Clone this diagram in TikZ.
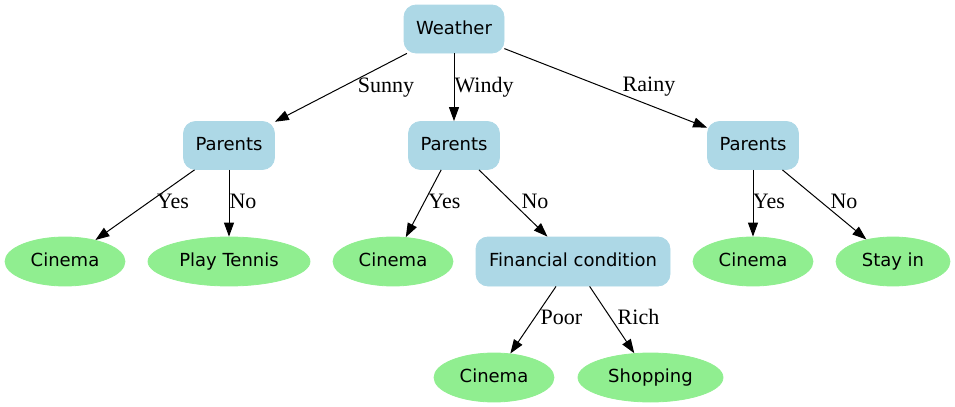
\documentclass[tikz,border=0pt]{standalone}
\usepackage{fontspec}
\setmainfont{Liberation Serif}
\setsansfont{DejaVu Sans}
\usetikzlibrary{shapes.geometric,arrows.meta}

\definecolor{boxblue}{HTML}{ADD8E6}
\definecolor{leafgreen}{HTML}{90EE90}

\tikzset{
  nodefont/.style={font=\sffamily\fontsize{9}{10}\selectfont, text height=0.75em, text depth=0.25em},
  question/.style={nodefont, rectangle, rounded corners=6pt, fill=boxblue, draw=boxblue,
    minimum height=24pt, inner xsep=0pt},
  answer/.style={nodefont, ellipse, fill=leafgreen, draw=leafgreen,
    minimum height=24.5pt, minimum width=60pt, inner sep=0pt},
  choice/.style={font=\fontsize{11}{12}\selectfont, inner sep=0pt, anchor=base},
  branch/.style={draw, line width=0.5pt, -{Triangle[length=7pt,width=5pt]}}
}

\begin{document}
\begin{tikzpicture}[x=0.5pt,y=-0.5pt]
\useasboundingbox (0,0) rectangle (955,407);
% decisions
\node[question, minimum width=50pt] (weather) at (454,29) {Weather};
\node[question, minimum width=45.5pt] (parents-sunny) at (229,145.5) {Parents};
\node[question, minimum width=45.5pt] (parents-windy) at (454,145.5) {Parents};
\node[question, minimum width=45.5pt] (parents-rainy) at (753,145.5) {Parents};
\node[question, minimum width=97pt, minimum height=24.5pt] (money) at (573,261.5) {Financial condition};
% outcomes
\node[answer] (cinema-sunny) at (65,261.5) {Cinema};
\node[answer, minimum width=81pt] (tennis) at (229,261.5) {Play Tennis};
\node[answer] (cinema-windy) at (393,261.5) {Cinema};
\node[answer] (cinema-rainy) at (753,261.5) {Cinema};
\node[answer, minimum width=57pt] (stay) at (893,261.5) {Stay in};
\node[answer] (cinema-poor) at (494,377.5) {Cinema};
\node[answer, minimum width=72.5pt] (shopping) at (650.5,377.5) {Shopping};

\draw[branch] (weather) -- (parents-sunny);
\draw[branch] (weather) -- (parents-windy);
\draw[branch] (weather) -- (parents-rainy);
\draw[branch] (parents-sunny) -- (cinema-sunny);
\draw[branch] (parents-sunny) -- (tennis);
\draw[branch] (parents-windy) -- (cinema-windy);
\draw[branch] (parents-windy) -- (money);
\draw[branch] (parents-rainy) -- (cinema-rainy);
\draw[branch] (parents-rainy) -- (stay);
\draw[branch] (money) -- (cinema-poor);
\draw[branch] (money) -- (shopping);

% edge labels
\node[choice] (l-sunny) at (386,92) {Sunny};
\node[choice] (l-windy) at (484,92) {Windy};
\node[choice] (l-rainy) at (649,91) {Rainy};
\node[choice] (l-yes1) at (173,208) {Yes};
\node[choice] (l-no1) at (243,208) {No};
\node[choice] (l-yes2) at (444.5,208) {Yes};
\node[choice] (l-no2) at (535,208) {No};
\node[choice] (l-yes3) at (769,208) {Yes};
\node[choice] (l-no3) at (844,208) {No};
\node[choice] (l-poor) at (561.5,324) {Poor};
\node[choice] (l-rich) at (638.5,324) {Rich};
\end{tikzpicture}
\end{document}
